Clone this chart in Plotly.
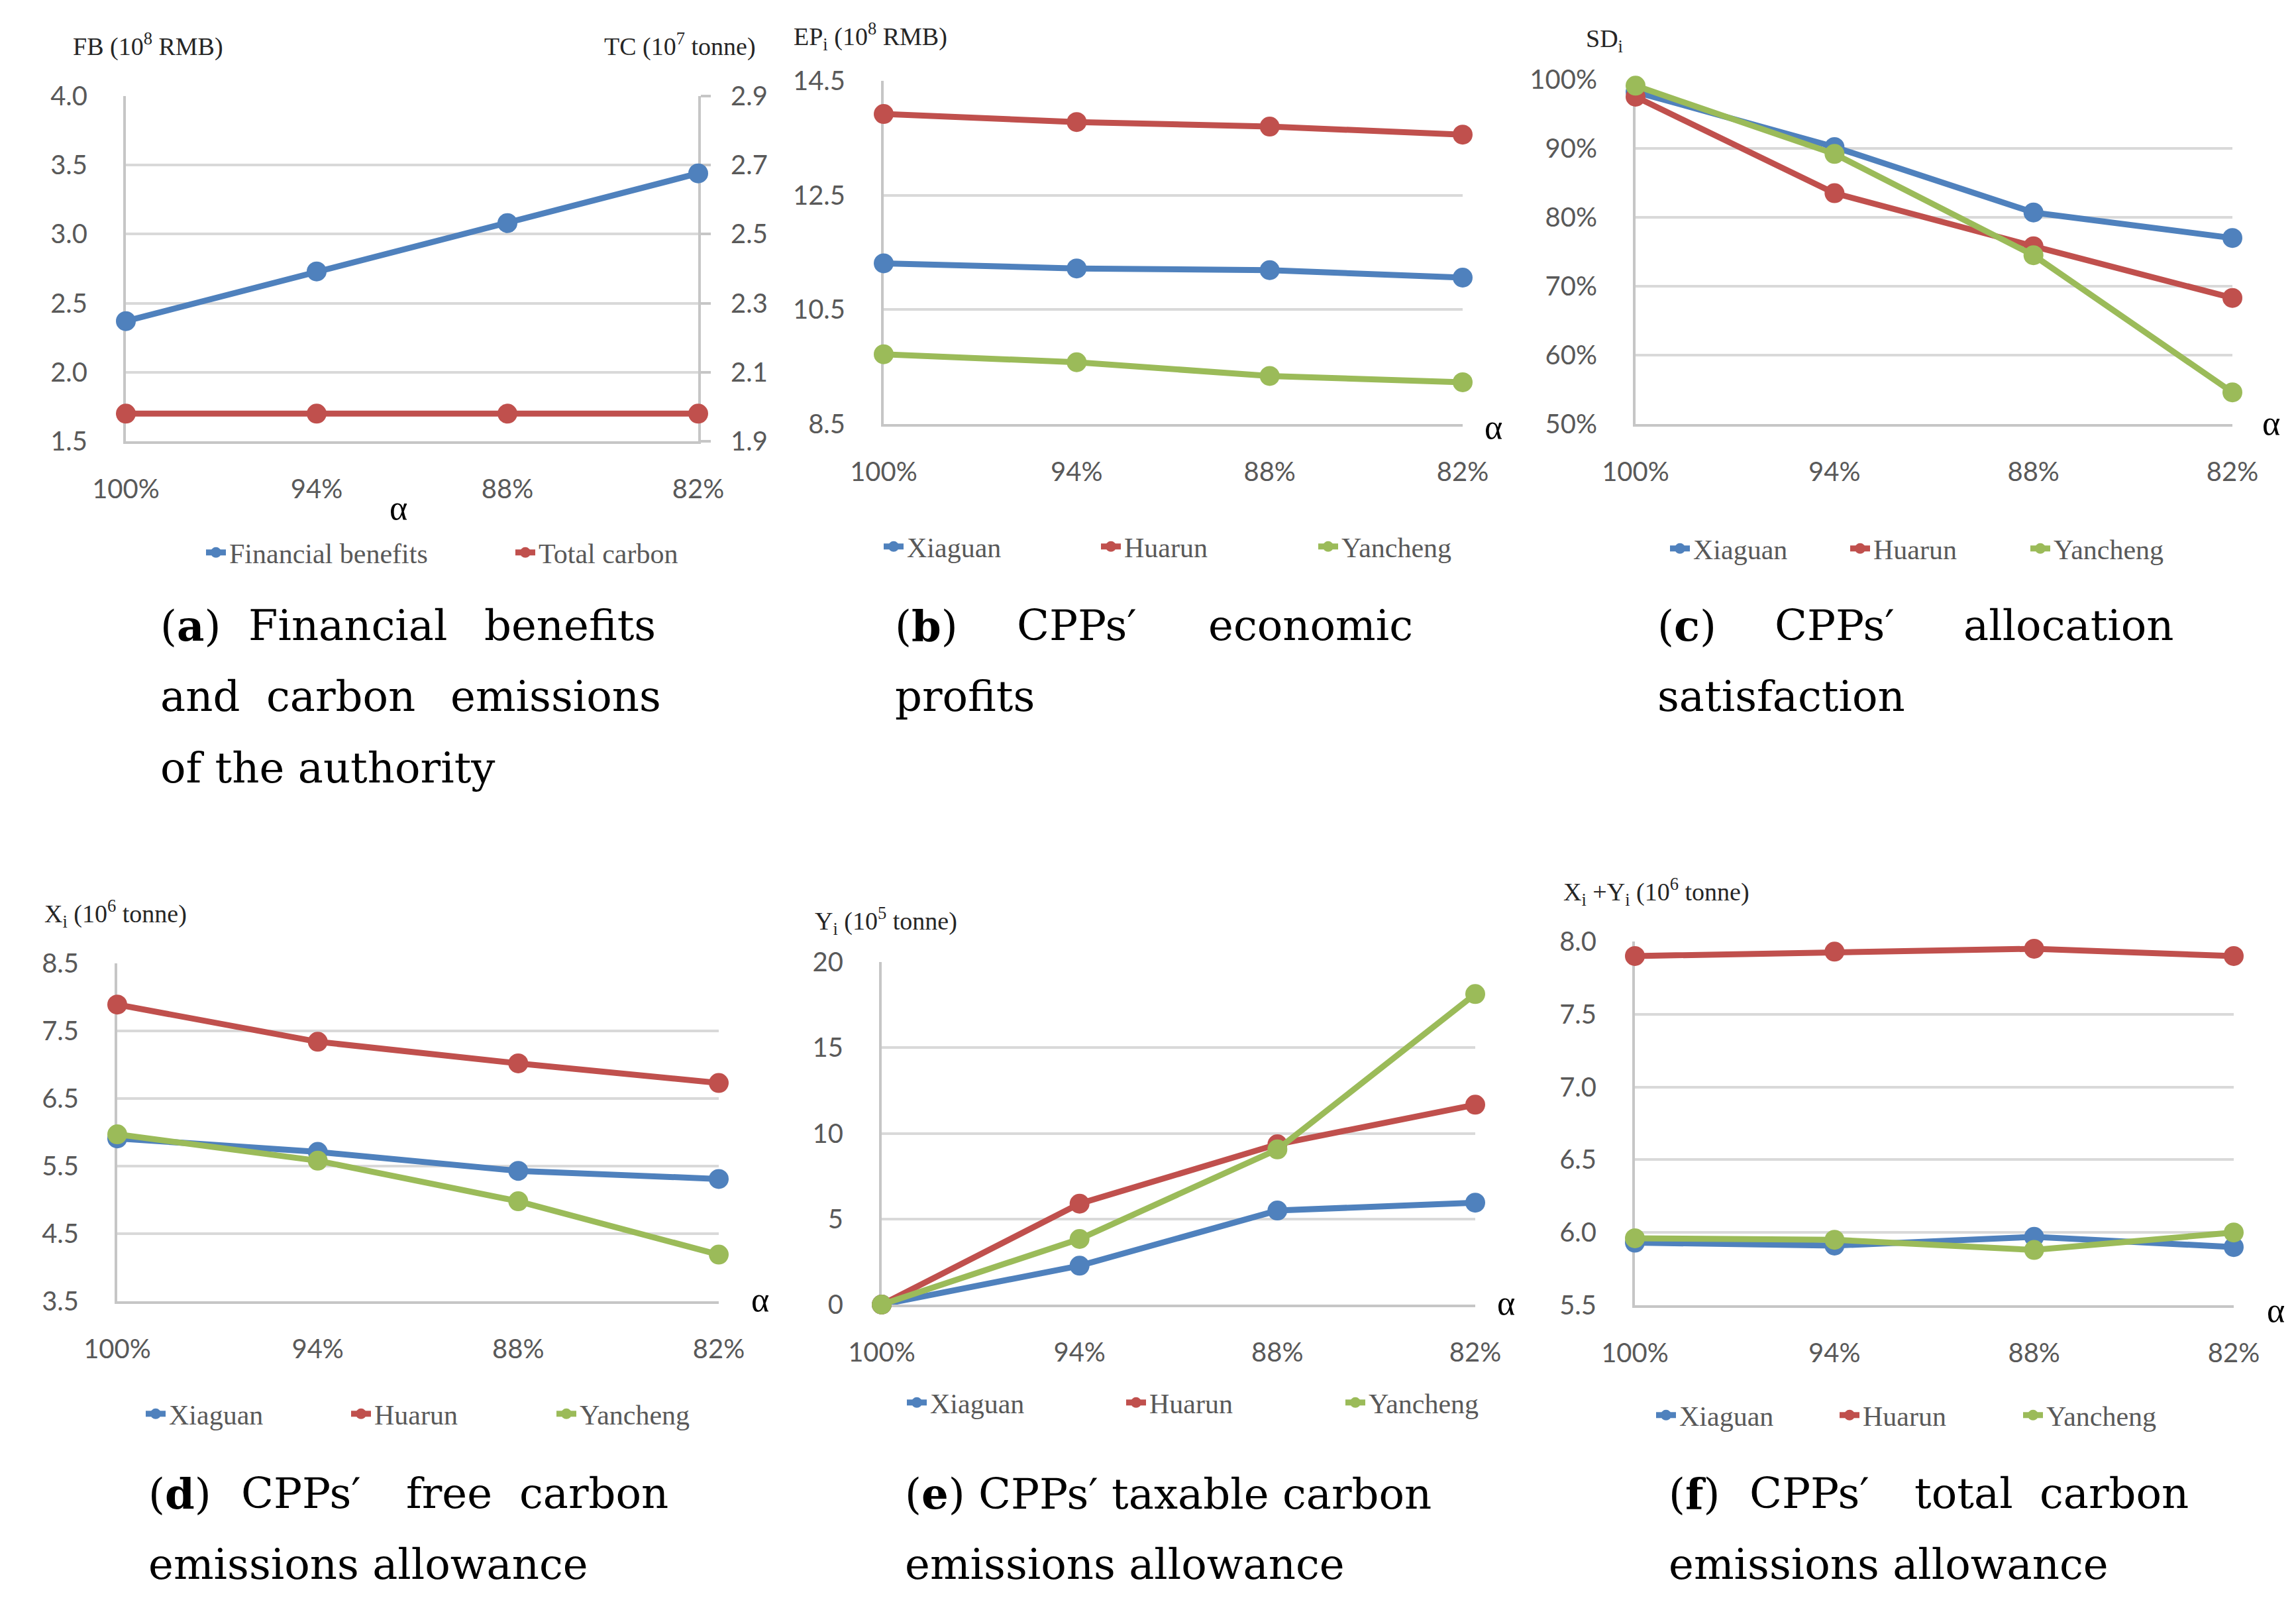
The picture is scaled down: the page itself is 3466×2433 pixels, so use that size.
import plotly.graph_objects as go

W, H = 3466, 2433
PAGE_OFFSET = 8  # default body margin of the html page

# ---------------- data ----------------
alpha_levels = ["100%", "94%", "88%", "82%"]

financial_benefits = [2.37, 2.73, 3.08, 3.44]   # FB, 10^8 RMB (left axis)
total_carbon = [1.98, 1.98, 1.98, 1.98]         # TC, 10^7 tonne (right axis)

ep_xiaguan = [11.31, 11.22, 11.19, 11.06]
ep_huarun = [13.92, 13.78, 13.70, 13.56]
ep_yancheng = [9.72, 9.58, 9.34, 9.23]

sd_xiaguan = [98.2, 90.2, 80.7, 77.0]
sd_huarun = [97.5, 83.5, 75.8, 68.3]
sd_yancheng = [99.1, 89.2, 74.5, 54.6]

x_xiaguan = [5.91, 5.71, 5.43, 5.31]
x_huarun = [7.89, 7.34, 7.02, 6.73]
x_yancheng = [5.97, 5.58, 4.98, 4.19]

y_xiaguan = [0.0, 2.27, 5.49, 5.95]
y_huarun = [0.0, 5.89, 9.36, 11.67]
y_yancheng = [0.0, 3.83, 9.06, 18.13]

xy_xiaguan = [5.93, 5.91, 5.97, 5.90]
xy_huarun = [7.90, 7.93, 7.95, 7.90]
xy_yancheng = [5.96, 5.95, 5.88, 6.00]

# ---------------- styles ----------------
BLUE, RED, GREEN = "#4f81bd", "#c0504d", "#9bbb59"
TICK_FONT = dict(family="Lato, Liberation Sans, sans-serif", size=40, color="#595959")
SERIF = "Liberation Serif, Times New Roman, serif"
LEG_FONT = dict(family=SERIF, size=42, color="#595959")
TITLE_FONT = dict(family=SERIF, size=38, color="#262626")
ALPHA_FONT = dict(family=SERIF, size=52, color="#000000")
CAP_FONT = dict(family="DejaVu Serif, serif", size=64, color="#000000")
GRID = "#d9d9d9"
AXLINE = "#c6c6c6"


def fx(px):
    return (px - PAGE_OFFSET) / W


def fy(py):
    return 1 - (py - PAGE_OFFSET) / H


fig = go.Figure()

panels = [
    dict(box=(190, 1054, 145, 666), yr=[1.5, 4.0], dtick=0.5, fmt=".1f", suf="",
         series=[("Financial benefits", financial_benefits, BLUE, None),
                 ("Total carbon", total_carbon, RED, "y7")],
         leg=(351, 834, 422),
         title=("FB (10<sup>8</sup> RMB)", 108, 68),
         alpha=(601, 766)),
    dict(box=(1334, 2208, 122, 640), yr=[8.5, 14.5], dtick=2, fmt=".1f", suf="",
         series=[("Xiaguan", ep_xiaguan, BLUE, None), ("Huarun", ep_huarun, RED, None),
                 ("Yancheng", ep_yancheng, GREEN, None)],
         leg=(1374, 825, 283),
         title=("EP<sub>i</sub> (10<sup>8</sup> RMB)", 1196, 55),
         alpha=(2254, 645)),
    dict(box=(2469, 3370, 120, 640), yr=[50, 100], dtick=10, fmt="d", suf="%",
         series=[("Xiaguan", sd_xiaguan, BLUE, None), ("Huarun", sd_huarun, RED, None),
                 ("Yancheng", sd_yancheng, GREEN, None)],
         leg=(2561, 828, 227),
         title=("SD<sub>i</sub>", 2392, 61),
         alpha=(3428, 638)),
    dict(box=(177, 1085, 1454, 1964), yr=[3.5, 8.5], dtick=1, fmt=".1f", suf="",
         series=[("Xiaguan", x_xiaguan, BLUE, None), ("Huarun", x_huarun, RED, None),
                 ("Yancheng", x_yancheng, GREEN, None)],
         leg=(260, 2134, 265),
         title=("X<sub>i</sub> (10<sup>6</sup> tonne)", 65, 1379),
         alpha=(1147, 1961)),
    dict(box=(1331, 2227, 1452, 1969), yr=[0, 20], dtick=5, fmt="d", suf="",
         series=[("Xiaguan", y_xiaguan, BLUE, None), ("Huarun", y_huarun, RED, None),
                 ("Yancheng", y_yancheng, GREEN, None)],
         leg=(1409, 2117, 286),
         title=("Y<sub>i</sub> (10<sup>5</sup> tonne)", 1228, 1390),
         alpha=(2273, 1966)),
    dict(box=(2468, 3372, 1421, 1970), yr=[5.5, 8.0], dtick=0.5, fmt=".1f", suf="",
         series=[("Xiaguan", xy_xiaguan, BLUE, None), ("Huarun", xy_huarun, RED, None),
                 ("Yancheng", xy_yancheng, GREEN, None)],
         leg=(2540, 2136, 232),
         title=("X<sub>i</sub> +Y<sub>i</sub> (10<sup>6</sup> tonne)", 2358, 1346),
         alpha=(3435, 1977)),
]

annotations = []
layout_axes = {}

for i, p in enumerate(panels, start=1):
    sfx = "" if i == 1 else str(i)
    l, r, t, b = p["box"]
    legname = "legend" + sfx
    for name, vals, col, yov in p["series"]:
        fig.add_trace(go.Scatter(
            x=alpha_levels, y=vals, name=name, mode="lines+markers",
            line=dict(color=col, width=9), marker=dict(color=col, size=30),
            cliponaxis=False, xaxis="x" + sfx, yaxis=yov or ("y" + sfx),
            legend=legname, hoverinfo="skip"))
    layout_axes["xaxis" + sfx] = dict(
        domain=[fx(l), fx(r)], anchor="y" + sfx, type="category",
        categoryorder="array", categoryarray=alpha_levels, range=[0, 3],
        showgrid=False, zeroline=False, showline=True, linecolor=AXLINE, linewidth=4,
        ticks="outside", ticklen=34, tickcolor="rgba(0,0,0,0)", tickfont=TICK_FONT,
        layer="below traces", fixedrange=True, automargin=False)
    layout_axes["yaxis" + sfx] = dict(
        domain=[fy(b), fy(t)], anchor="x" + sfx, range=p["yr"], dtick=p["dtick"],
        tick0=p["yr"][0], tickformat=p["fmt"], ticksuffix=p["suf"],
        showgrid=True, gridcolor=GRID, gridwidth=4, zeroline=False,
        showline=True, linecolor=AXLINE, linewidth=4,
        ticks="outside", ticklen=46, tickcolor="rgba(0,0,0,0)", tickfont=TICK_FONT,
        layer="below traces", fixedrange=True, automargin=False)
    tx, ly, ew = p["leg"]
    layout_axes[legname] = dict(
        orientation="h", x=fx(tx - 45), xanchor="left", y=fy(ly), yanchor="middle",
        font=LEG_FONT, entrywidth=ew, entrywidthmode="pixels", bgcolor="rgba(0,0,0,0)",
        traceorder="normal", itemclick=False, itemdoubleclick=False)
    ttxt, ttx, tty = p["title"]
    annotations.append(dict(text=ttxt, x=fx(ttx), y=fy(tty), xref="paper", yref="paper",
                            xanchor="left", yanchor="middle", showarrow=False, font=TITLE_FONT))
    ax_, ay_ = p["alpha"]
    annotations.append(dict(text="α", x=fx(ax_), y=fy(ay_), xref="paper", yref="paper",
                            xanchor="center", yanchor="middle", showarrow=False, font=ALPHA_FONT))

# right axis of panel (a)
layout_axes["yaxis7"] = dict(
    overlaying="y", side="right", anchor="x", range=[1.9, 2.9], dtick=0.2, tick0=1.9,
    tickformat=".1f", showgrid=False, zeroline=False, showline=True, linecolor=AXLINE,
    linewidth=4, ticks="outside", ticklen=15, tickwidth=4, tickcolor=AXLINE,
    ticklabelstandoff=22, tickfont=TICK_FONT, layer="below traces", fixedrange=True,
    automargin=False)
annotations.append(dict(text="TC (10<sup>7</sup> tonne)", x=fx(1143), y=fy(68), xref="paper",
                        yref="paper", xanchor="right", yanchor="middle", showarrow=False,
                        font=TITLE_FONT))

# sub-figure captions: (words with left x in px), centre y px
captions = [
    [("(<b>a</b>)", 240), ("Financial", 373), ("benefits", 729)], 944,
    [("and", 240), ("carbon", 400), ("emissions", 678)], 1051,
    [("of the authority", 240)], 1159,
    [("(<b>b</b>)", 1349), ("CPPs′", 1533), ("economic", 1822)], 944,
    [("profits", 1349)], 1051,
    [("(<b>c</b>)", 2500), ("CPPs′", 2677), ("allocation", 2962)], 944,
    [("satisfaction", 2500)], 1051,
    [("(<b>d</b>)", 222), ("CPPs′", 362), ("free", 611), ("carbon", 782)], 2254,
    [("emissions allowance", 222)], 2361,
    [("(<b>e</b>) CPPs′ taxable carbon", 1364)], 2254,
    [("emissions allowance", 1364)], 2361,
    [("(<b>f</b>)", 2517), ("CPPs′", 2639), ("total", 2888), ("carbon", 3077)], 2254,
    [("emissions allowance", 2517)], 2361,
]
for k in range(0, len(captions), 2):
    words, yc = captions[k], captions[k + 1]
    for wtxt, xp in words:
        annotations.append(dict(text=wtxt, x=fx(xp), y=fy(yc), xref="paper", yref="paper",
                                xanchor="left", yanchor="middle", showarrow=False,
                                font=CAP_FONT))

fig.update_layout(
    width=W, height=H, autosize=False, margin=dict(l=0, r=0, t=0, b=0, pad=0),
    paper_bgcolor="white", plot_bgcolor="white",
    annotations=annotations, **layout_axes)

fig.write_html("out.html")
